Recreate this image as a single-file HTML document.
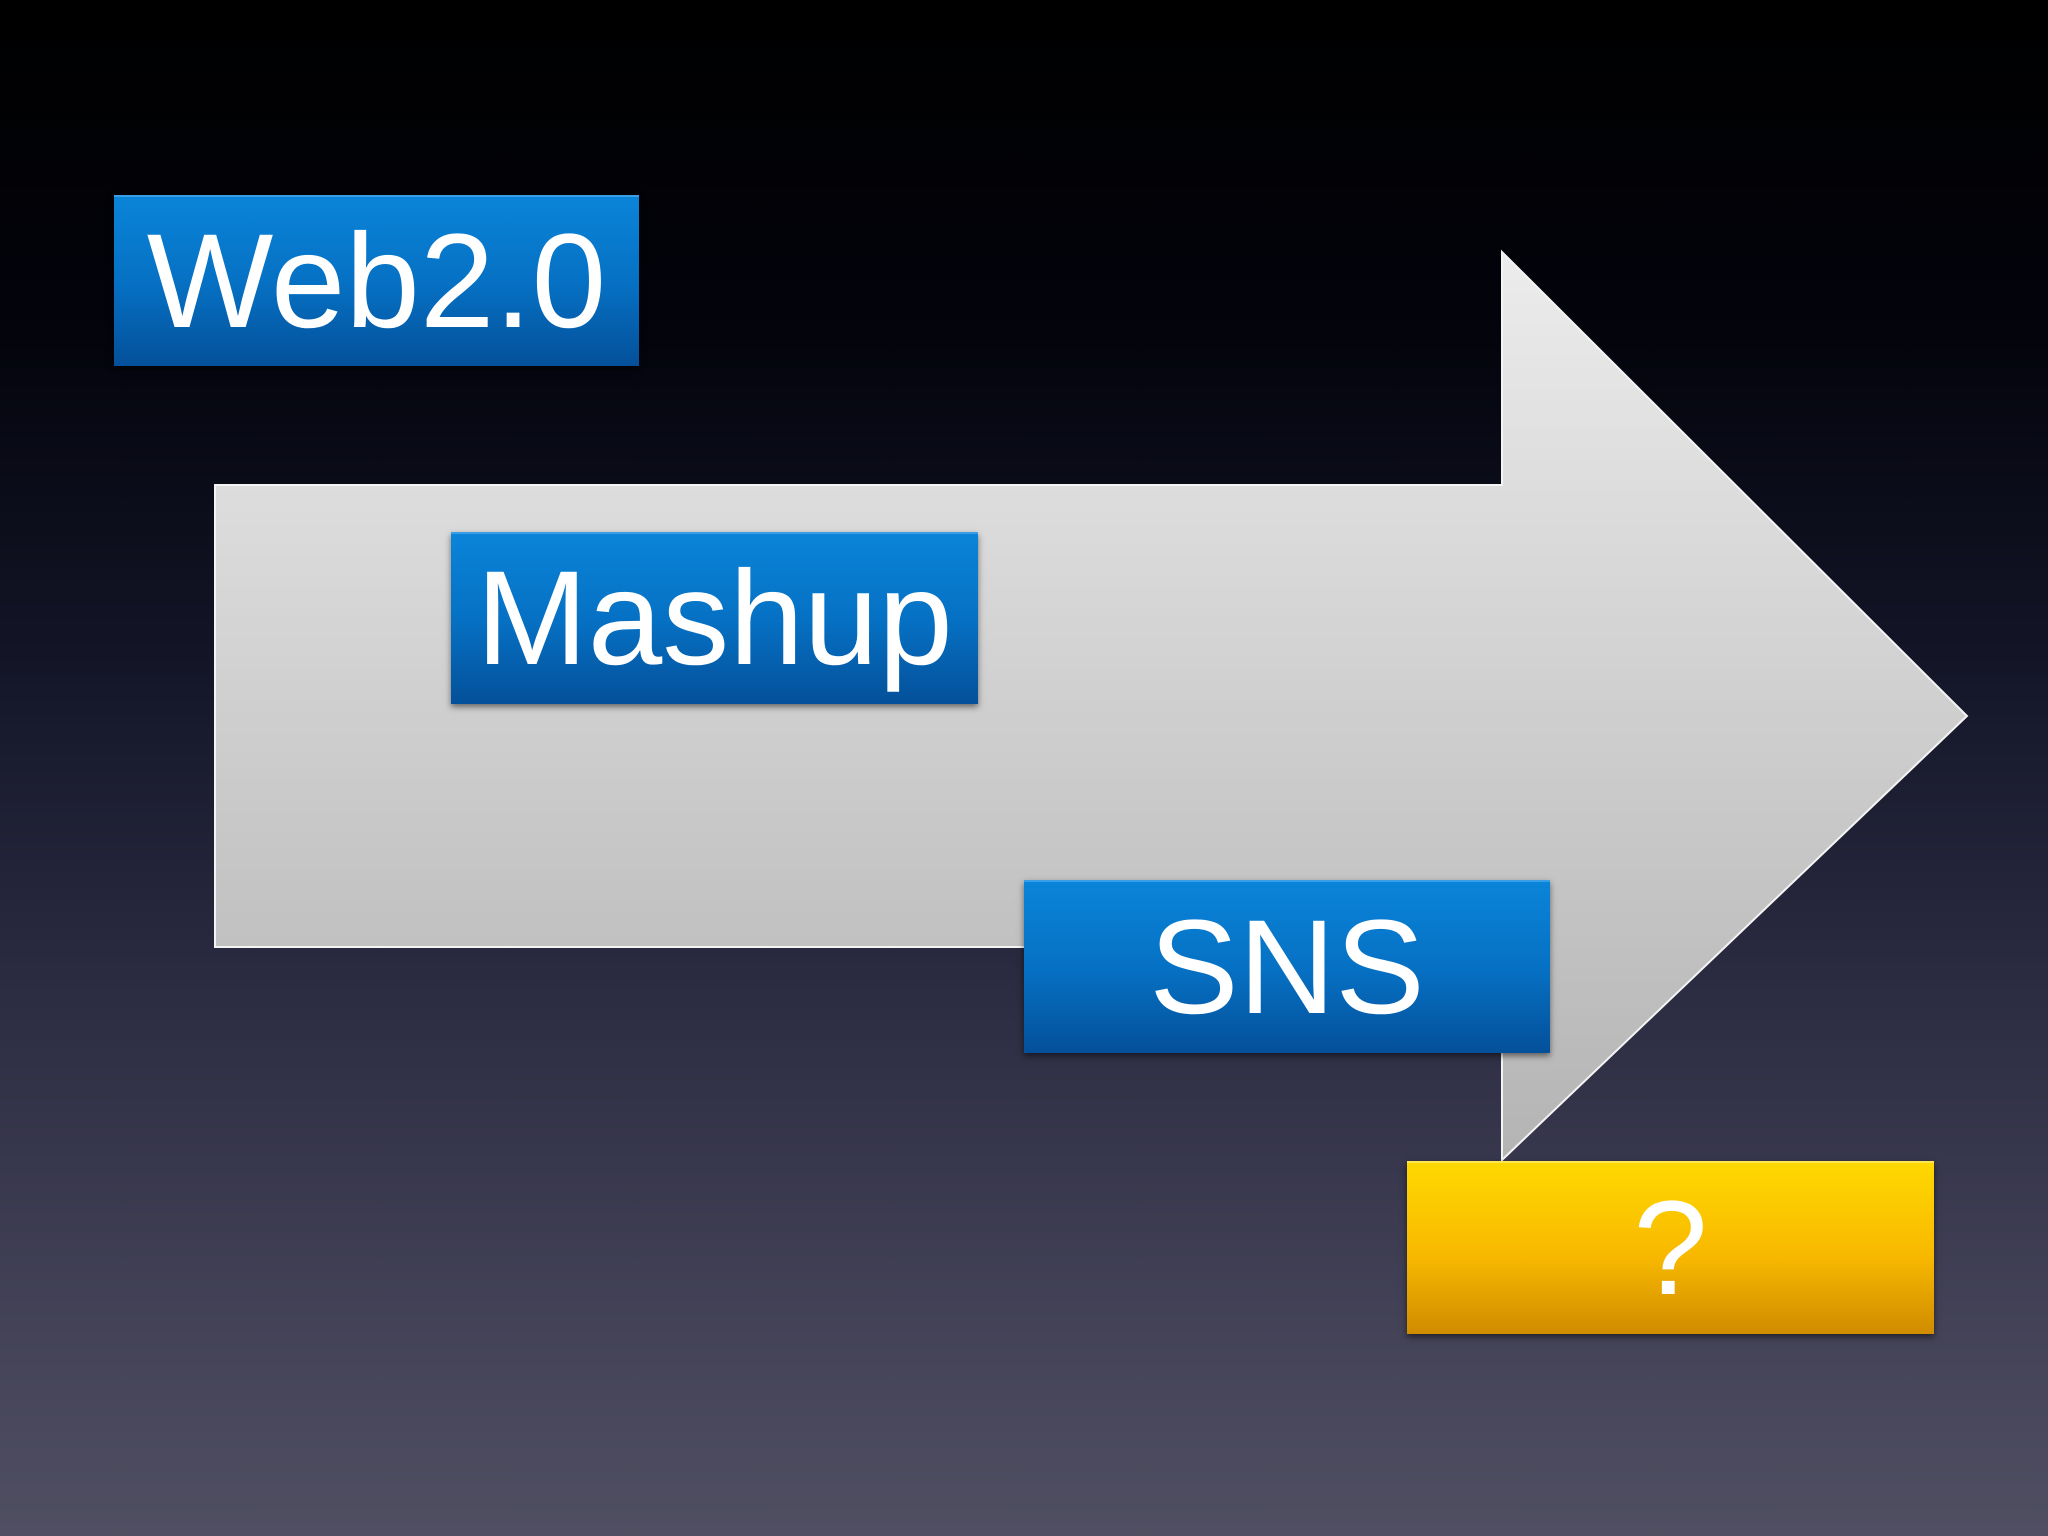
<!DOCTYPE html>
<html><head><meta charset="utf-8">
<style>
html,body{margin:0;padding:0;}
body{width:2048px;height:1536px;overflow:hidden;position:relative;
background:linear-gradient(to bottom,#000 0%,#03040c 22%,#15172a 45%,#2c2c42 65%,#424156 85%,#504f62 100%);
font-family:"Liberation Sans",sans-serif;}
svg{position:absolute;left:0;top:0;}
.box{position:absolute;display:flex;align-items:center;justify-content:center;color:#fff;font-size:134px;line-height:1;
box-shadow:0 3px 6px rgba(0,0,0,.5);box-sizing:border-box;}
.blue{background:linear-gradient(to bottom,#0a84d8 0%,#0671c4 50%,#04509a 100%);border-top:2px solid #3a9ee6;}
.yellow{background:linear-gradient(to bottom,#ffd800 0%,#f8b800 55%,#d08c00 100%);border-top:2px solid #ffe650;}
</style></head><body>
<svg width="2048" height="1536">
<defs><linearGradient id="g" x1="0" y1="0" x2="0" y2="1">
<stop offset="0" stop-color="#ececec"/><stop offset="0.5" stop-color="#cfcfcf"/><stop offset="1" stop-color="#b4b4b4"/></linearGradient></defs>
<polygon points="215,485 1502,485 1502,252 1967,716 1502,1160 1502,947 215,947" fill="url(#g)" stroke="#f4f4f4" stroke-width="2"/>
</svg>
<div class="box blue" style="left:114px;top:195px;width:525px;height:171px;">Web2.0</div>
<div class="box blue" style="left:451px;top:532px;width:527px;height:172px;">Mashup</div>
<div class="box blue" style="left:1024px;top:880px;width:526px;height:173px;">SNS</div>
<div class="box yellow" style="left:1407px;top:1161px;width:527px;height:173px;">?</div>
</body></html>
